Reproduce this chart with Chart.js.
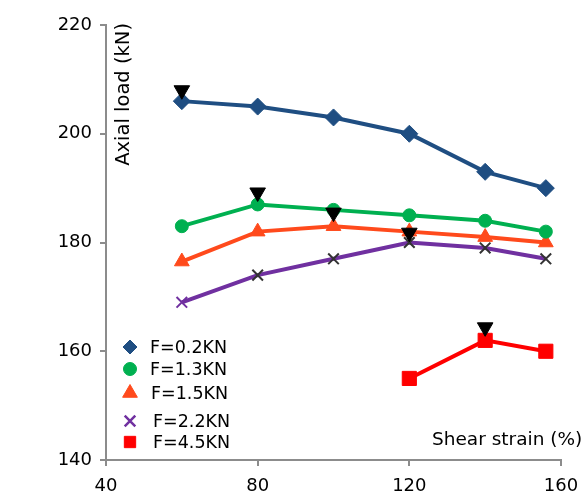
<!DOCTYPE html>
<html>
<head>
<meta charset="utf-8">
<script src="https://cdn.jsdelivr.net/npm/chart.js@4.4.1/dist/chart.umd.min.js"></script>
<style>
  html, body { margin: 0; padding: 0; background: #ffffff; }
  #wrap { width: 585px; height: 495px; position: relative; }
</style>
</head>
<body>
<div id="wrap"><canvas id="c" width="585" height="495"></canvas></div>
<script>
// ---- data ----
const strain = [60, 80, 100, 120, 140, 156];
const loadF02 = [206, 205, 203, 200, 193, 190];
const loadF13 = [183, 187, 186, 185, 184, 182];
const loadF15 = [176.5, 182, 183, 182, 181, 180];
const loadF22 = [169, 174, 177, 180, 179, 177];
const strainF45 = [120, 140, 156];
const loadF45 = [155, 162, 160];
const peakStrain = [60, 80, 100, 120, 140];
const peakLoad = [208, 189.2, 185.5, 181.8, 164.4];
const seriesLabels = ['F=0.2KN', 'F=1.3KN', 'F=1.5KN', 'F=2.2KN', 'F=4.5KN'];
const xTicks = [40, 80, 120, 160];
const yTicks = [140, 160, 180, 200, 220];
const xTitle = 'Shear strain (%)';
const yTitle = 'Axial load (kN)';

const FONT = '"DejaVu Sans", "Liberation Sans", Arial, sans-serif';
const pts = (xs, ys) => xs.map((x, i) => ({ x: x, y: ys[i] }));

const datasets = [
  {
    label: 'peak', data: pts(peakStrain, peakLoad), showLine: false,
    pointStyle: 'triangle', rotation: 180, pointRadius: 9, pointHoverRadius: 9,
    backgroundColor: '#000000', borderColor: '#000000', pointBorderWidth: 1, order: -1
  },
  {
    label: seriesLabels[0], data: pts(strain, loadF02), showLine: true,
    borderColor: '#1f4e82', backgroundColor: '#1f4e82', borderWidth: 4,
    pointStyle: 'rectRot', pointRadius: 8.5, pointHoverRadius: 8.5, pointBorderWidth: 1,
    legendRadius: 7
  },
  {
    label: seriesLabels[1], data: pts(strain, loadF13), showLine: true,
    borderColor: '#00b050', backgroundColor: '#00b050', borderWidth: 4,
    pointStyle: 'circle', pointRadius: 6.5, pointHoverRadius: 6.5, pointBorderWidth: 1,
    legendRadius: 6.5
  },
  {
    label: seriesLabels[2], data: pts(strain, loadF15), showLine: true,
    borderColor: '#ff4a1c', backgroundColor: '#ff4a1c', borderWidth: 4,
    pointStyle: 'triangle', pointRadius: 8.5, pointHoverRadius: 8.5, pointBorderWidth: 1,
    legendRadius: 8.5
  },
  {
    label: seriesLabels[3], data: pts(strain, loadF22), showLine: true,
    borderColor: '#7030a0', backgroundColor: '#7030a0', borderWidth: 4,
    pointStyle: 'crossRot', pointRadius: 7.5, pointHoverRadius: 7.5, pointBorderWidth: 2,
    pointBorderColor: ['#7030a0', '#333333', '#333333', '#333333', '#333333', '#333333'],
    legendRadius: 7.5, legendColor: '#7030a0'
  },
  {
    label: seriesLabels[4], data: pts(strainF45, loadF45), showLine: true,
    borderColor: '#ff0000', backgroundColor: '#ff0000', borderWidth: 4,
    pointStyle: 'rect', pointRadius: 10, pointHoverRadius: 10, pointBorderWidth: 1,
    legendRadius: 8
  }
];

// legend + axis titles drawn inside the plot area
const insidePlugin = {
  id: 'inside',
  afterDraw(chart) {
    const ctx = chart.ctx;
    ctx.save();
    const rowsY = [347, 369, 393, 421, 442];
    const textX = [150, 150, 151, 153, 153];
    const markX = 130;
    let row = 0;
    chart.data.datasets.forEach(ds => {
      if (ds.label === 'peak') return;
      const y = rowsY[row];
      const col = ds.legendColor || ds.backgroundColor;
      ctx.fillStyle = col;
      ctx.strokeStyle = col;
      const bw = ds.pointStyle === 'crossRot' ? 2.5 : 1;
      ctx.lineWidth = bw;
      Chart.helpers.drawPoint(ctx, {
        pointStyle: ds.pointStyle, radius: ds.legendRadius, rotation: 0, borderWidth: bw
      }, markX, y);
      ctx.fillStyle = '#000000';
      ctx.font = '17.5px ' + FONT;
      ctx.textAlign = 'left';
      ctx.textBaseline = 'middle';
      ctx.fillText(ds.label, textX[row], y + 1);
      row++;
    });
    ctx.fillStyle = '#000000';
    ctx.font = '18.5px ' + FONT;
    ctx.textAlign = 'left';
    ctx.textBaseline = 'middle';
    ctx.fillText(xTitle, 432, 440);
    ctx.save();
    ctx.translate(124, 23);
    ctx.rotate(-Math.PI / 2);
    ctx.textAlign = 'right';
    ctx.textBaseline = 'middle';
    ctx.font = '19.5px ' + FONT;
    ctx.fillText(yTitle, 0, 0);
    ctx.restore();
    ctx.restore();
  }
};

new Chart(document.getElementById('c'), {
  type: 'scatter',
  data: { datasets: datasets },
  options: {
    responsive: false,
    animation: false,
    devicePixelRatio: 1,
    layout: { padding: { top: 25, right: 24, left: 0, bottom: 0 } },
    plugins: { legend: { display: false }, tooltip: { enabled: false } },
    scales: {
      x: {
        type: 'linear', min: 40, max: 160,
        afterFit: s => { s.height = 35; s.paddingLeft = 0; s.paddingRight = 0; },
        afterBuildTicks: s => { s.ticks = xTicks.map(v => ({ value: v })); },
        grid: { drawOnChartArea: false, drawTicks: true, tickLength: 6, color: '#8c8c8c', lineWidth: 2 },
        border: { display: true, color: '#8c8c8c', width: 2 },
        ticks: { color: '#000000', font: { family: FONT, size: 18 }, padding: 10, maxRotation: 0 }
      },
      y: {
        type: 'linear', min: 140, max: 220,
        afterFit: s => { s.width = 106; s.paddingTop = 0; s.paddingBottom = 0; },
        afterBuildTicks: s => { s.ticks = yTicks.map(v => ({ value: v })); },
        grid: { drawOnChartArea: false, drawTicks: true, tickLength: 6, color: '#8c8c8c', lineWidth: 2 },
        border: { display: true, color: '#8c8c8c', width: 2 },
        ticks: { color: '#000000', font: { family: FONT, size: 18 }, padding: 8 }
      }
    }
  },
  plugins: [insidePlugin]
});
</script>
</body>
</html>
